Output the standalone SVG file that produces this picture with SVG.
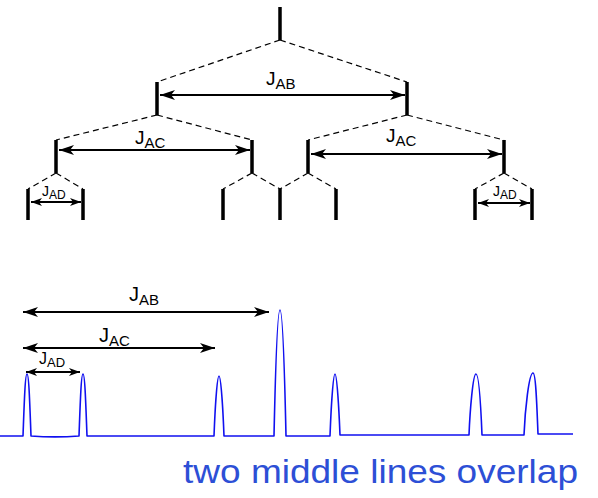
<svg xmlns="http://www.w3.org/2000/svg" width="598" height="498" viewBox="0 0 598 498">
<style>
.v{stroke:#000;stroke-width:3.5;fill:none}
.d{stroke:#000;stroke-width:1.2;stroke-dasharray:6 4;fill:none}
.a{stroke:#000;stroke-width:2;fill:none;marker-start:url(#ah);marker-end:url(#ah)}
.as{stroke:#000;stroke-width:1.8;fill:none;marker-start:url(#ahs);marker-end:url(#ahs)}
.t{font-family:"Liberation Sans",Arial,sans-serif;fill:#000}
.sp{stroke:#1010f0;stroke-width:1.6;fill:none;stroke-linejoin:round}
.hw{font-family:"Liberation Sans",Arial,sans-serif;fill:#2d4fd6}
</style>
<defs>
<marker id="ah" markerUnits="userSpaceOnUse" viewBox="0 0 15 10" refX="15" refY="5" markerWidth="15" markerHeight="10" orient="auto-start-reverse">
<path d="M0,0 L15,5 L0,10 L4,5 z" fill="#000"/>
</marker>
<marker id="ahs" markerUnits="userSpaceOnUse" viewBox="0 0 11 8" refX="11" refY="4" markerWidth="11" markerHeight="8" orient="auto-start-reverse">
<path d="M0,0 L11,4 L0,8 L3,4 z" fill="#000"/>
</marker>
</defs>

<g id="tree-dashes">
<path class="d" d="M280,40 L157,82 M280,40 L407,82"/>
<path class="d" d="M157,115 L56,140 M157,115 L252,140 M407,115 L308,140 M407,115 L504,140"/>
<path class="d" d="M56,173 L28,189 M56,173 L83,189 M252,173 L223,189 M252,173 L280,189 M308,173 L280,189 M308,173 L336,189 M504,173 L475,189 M504,173 L532,189"/>
</g>

<g id="tree-lines">
<path class="v" d="M280,7 V40"/>
<path class="v" d="M157,82 V115 M407,82 V115"/>
<path class="v" d="M56,140 V173 M252,140 V173 M308,140 V173 M504,140 V173"/>
<path class="v" d="M28,189 V220 M83,189 V220 M223,189 V220 M280,189 V220 M336,189 V220 M475,189 V220 M532,189 V220"/>
</g>

<g id="connectors">
<line class="a" x1="160" y1="95" x2="405" y2="95"/>
<line class="a" x1="59" y1="150" x2="250" y2="150"/>
<line class="a" x1="311" y1="154" x2="502" y2="154"/>
<line class="as" x1="31" y1="202" x2="81" y2="202"/>
<line class="as" x1="478" y1="203" x2="530" y2="203"/>
<line class="a" x1="23" y1="312" x2="269" y2="312"/>
<line class="a" x1="23" y1="348" x2="215" y2="348"/>
<line class="as" x1="26" y1="372" x2="80" y2="372"/>
</g>

<g id="labels">
<text class="t" x="266" y="85" font-size="19">J<tspan font-size="15" dy="4">AB</tspan></text>
<text class="t" x="135" y="144" font-size="19">J<tspan font-size="15" dy="4">AC</tspan></text>
<text class="t" x="386" y="142" font-size="19">J<tspan font-size="15" dy="4">AC</tspan></text>
<text class="t" x="42" y="196" font-size="14">J<tspan font-size="12" dy="3">AD</tspan></text>
<text class="t" x="493" y="196" font-size="14">J<tspan font-size="12" dy="3">AD</tspan></text>
<text class="t" x="129" y="301" font-size="20">J<tspan font-size="15" dy="4">AB</tspan></text>
<text class="t" x="99" y="342" font-size="20">J<tspan font-size="15" dy="4">AC</tspan></text>
<text class="t" x="39" y="364" font-size="16">J<tspan font-size="13" dy="3">AD</tspan></text>
</g>

<g id="spectrum">
<path class="sp" d="M0,436 L23,436 C24,410 25,374 27,374 C29,374 30,410 31,436 C45,437 65,437 79,436 C80,410 81,374 83,374 C85,374 86,410 87,436 L214,436 C215,410 217,376 219,376 C221,376 223,410 224,436 L274,436 C275,390 277,310 280,310 C283,310 285,390 286,436 L330,436 C331,410 333,374 335,374 C337,374 339,410 340,435 L469,435 C470,410 473,374 476,374 C479,374 481,410 482,435 L524,435 C525,410 529,373 533,373 C536,373 537,410 538,434 L573,434"/>
</g>

<g id="note">
<text class="hw" x="183" y="483" font-size="33" textLength="395" lengthAdjust="spacingAndGlyphs">two middle lines overlap</text>
</g>
</svg>
